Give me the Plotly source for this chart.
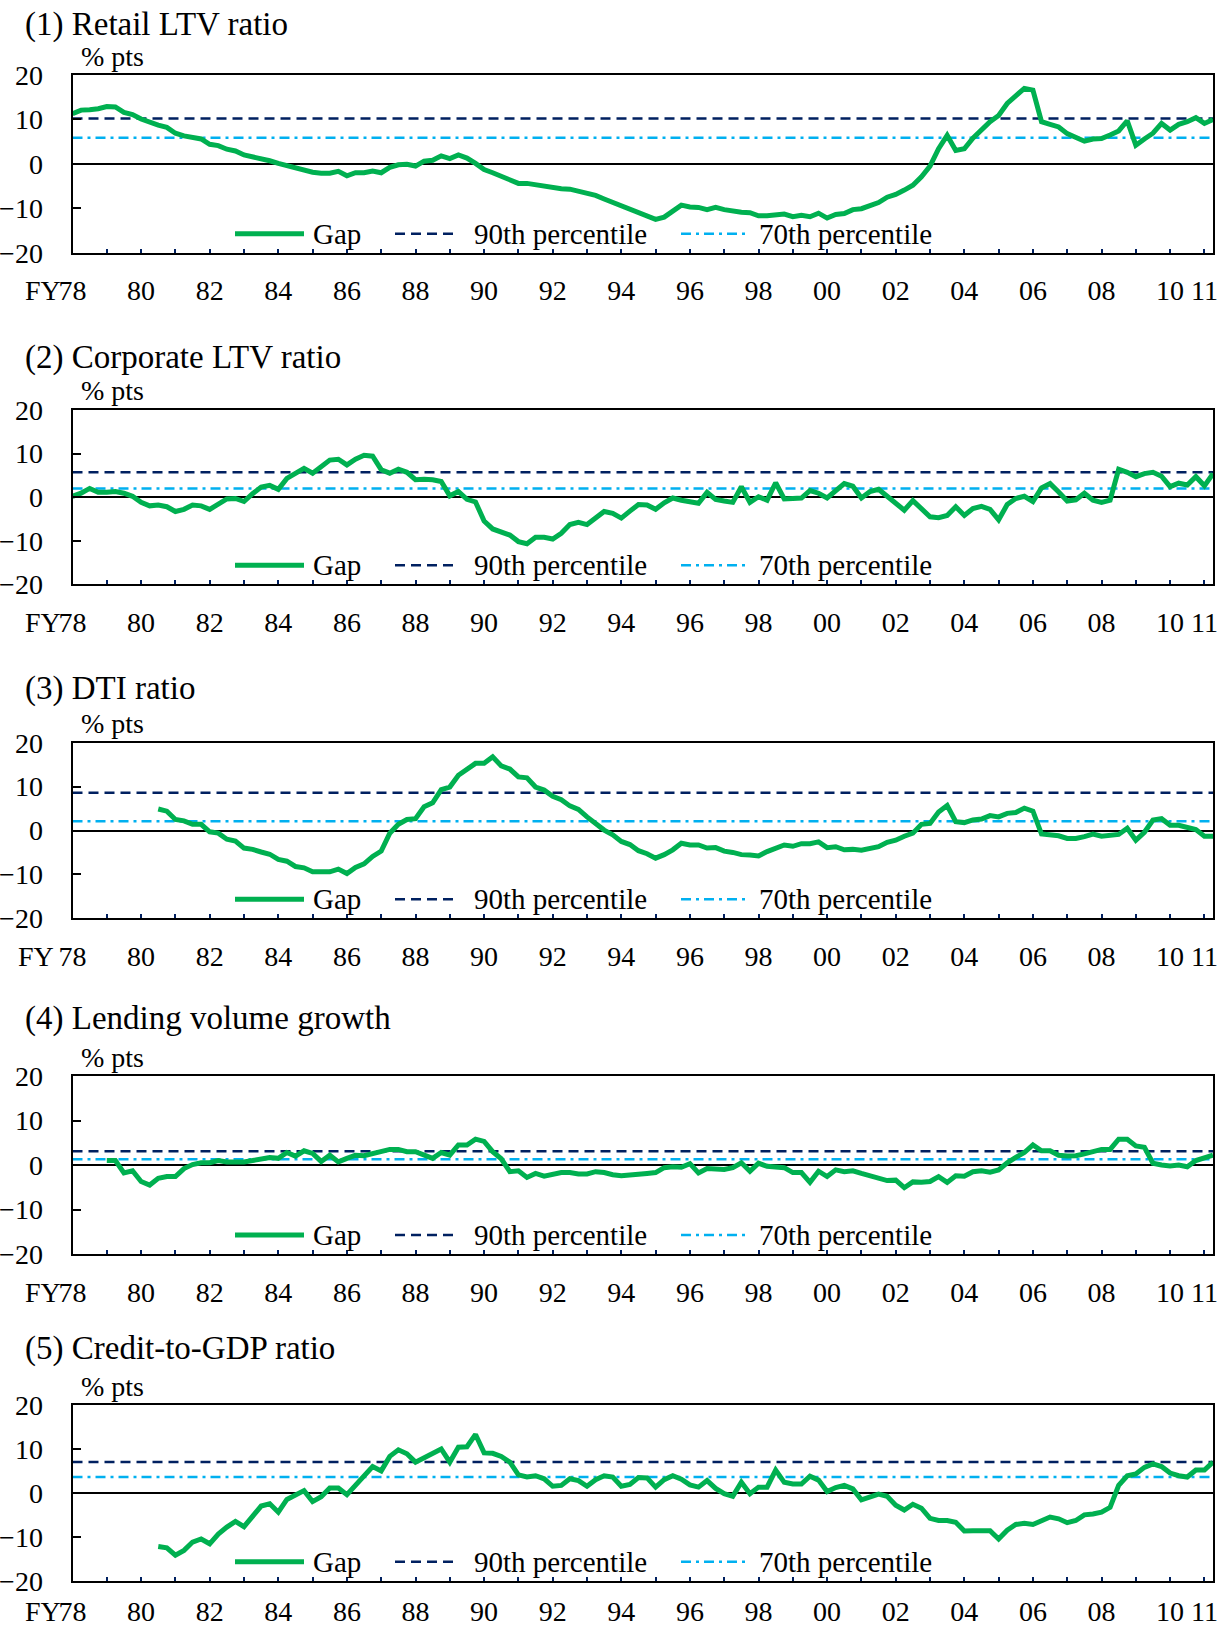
import plotly.graph_objects as go

# Quarterly gap series, FY1978Q1 .. FY2011Q2 (None = not yet available)
retail_ltv_gap = [
    11.3, 12.1, 12.2, 12.4, 12.9, 12.8, 11.6, 11.1,
    10.1, 9.3, 8.7, 8.2, 6.9, 6.3, 5.9, 5.6,
    4.4, 4.1, 3.3, 2.9, 2.0, 1.6, 1.2, 0.7,
    0.1, -0.4, -0.9, -1.2, -1.9, -2.1, -2.1, -1.7,
    -2.7, -2.0, -2.0, -1.6, -2.0, -0.8, -0.2, -0.1,
    -0.5, 0.6, 0.8, 1.8, 1.2, 2.0, 1.3, 0.1,
    -1.3, -2.0, -2.9, -3.8, -4.4, -4.4, -4.7, -5.0,
    -5.4, -5.6, -5.7, -6.1, -6.7, -7.1, -7.9, -8.7,
    -9.3, -10.1, -11.0, -11.7, -12.5, -12.0, -10.7, -9.3,
    -9.7, -9.8, -10.3, -9.8, -10.3, -10.7, -10.9, -11.0,
    -11.7, -11.7, -11.5, -11.3, -11.9, -11.6, -11.9, -11.1,
    -12.2, -11.4, -11.2, -10.3, -10.1, -9.4, -8.7, -7.5,
    -6.9, -5.9, -4.8, -2.9, -0.5, 3.4, 6.4, 3.0,
    3.4, 5.8, 7.6, 9.5, 10.9, 13.6, 15.3, 17.0,
    16.6, 9.5, 8.9, 8.3, 6.8, 5.9, 5.1, 5.6,
    5.7, 6.5, 7.4, 9.7, 4.2, 5.6, 6.9, 9.1,
    7.6, 8.9, 9.5, 10.4, 9.1, 10.0,
]

corporate_ltv_gap = [
    0.2, 0.9, 2.0, 1.1, 1.1, 1.3, 0.9, 0.2,
    -1.2, -2.0, -1.8, -2.2, -3.3, -2.8, -1.8, -2.0,
    -2.8, -1.6, -0.4, -0.3, -1.0, 0.8, 2.3, 2.7,
    1.8, 4.3, 5.5, 6.6, 5.5, 7.1, 8.5, 8.7,
    7.4, 8.7, 9.6, 9.4, 6.3, 5.5, 6.4, 5.7,
    4.0, 4.1, 4.0, 3.6, 0.3, 1.3, -0.5, -1.1,
    -5.5, -7.3, -7.9, -8.7, -10.2, -10.7, -9.2, -9.2,
    -9.6, -8.3, -6.3, -5.8, -6.3, -4.8, -3.3, -3.7,
    -4.8, -3.2, -1.7, -1.8, -2.8, -1.3, -0.2, -0.7,
    -1.1, -1.4, 1.1, -0.5, -0.9, -1.2, 2.4, -1.2,
    0.1, -0.7, 3.3, -0.4, -0.3, -0.2, 1.5, 0.9,
    -0.2, 1.5, 3.1, 2.5, -0.2, 1.3, 1.8, 0.2,
    -1.3, -3.0, -0.8, -2.5, -4.5, -4.7, -4.2, -2.2,
    -4.2, -2.6, -2.1, -2.8, -5.2, -1.7, -0.3, 0.2,
    -1.0, 2.1, 3.1, 1.2, -0.9, -0.6, 0.9, -0.7,
    -1.2, -0.7, 6.4, 5.7, 4.7, 5.4, 5.7, 4.8,
    2.4, 3.2, 2.8, 4.7, 2.6, 5.4,
]

dti_gap = [
    None, None, None, None, None, None, None, None,
    None, None, 4.9, 4.4, 2.5, 2.2, 1.4, 1.4,
    -0.3, -0.6, -2.0, -2.4, -4.0, -4.3, -4.9, -5.4,
    -6.6, -7.0, -8.2, -8.5, -9.4, -9.4, -9.4, -8.8,
    -9.8, -8.4, -7.6, -5.9, -4.7, -0.6, 1.4, 2.5,
    2.7, 5.4, 6.3, 9.3, 9.9, 12.6, 13.9, 15.3,
    15.3, 16.8, 14.7, 14.0, 12.2, 12.0, 9.9, 9.2,
    7.8, 7.0, 5.6, 4.8, 3.1, 1.6, 0.1, -1.0,
    -2.5, -3.2, -4.6, -5.3, -6.3, -5.5, -4.4, -2.9,
    -3.3, -3.3, -4.0, -3.9, -4.7, -5.0, -5.5, -5.6,
    -5.8, -4.8, -3.9, -3.3, -3.6, -3.0, -3.0, -2.6,
    -3.9, -3.7, -4.4, -4.3, -4.5, -4.2, -3.7, -2.7,
    -2.2, -1.3, -0.6, 1.4, 1.6, 4.2, 5.7, 2.0,
    1.8, 2.4, 2.6, 3.4, 3.1, 3.9, 4.1, 5.1,
    4.4, -0.8, -1.1, -1.2, -1.8, -1.8, -1.4, -0.8,
    -1.3, -1.1, -0.9, 0.5, -2.2, -0.4, 2.4, 2.7,
    1.2, 1.2, 0.6, 0.2, -1.3, -1.3,
]

lending_growth_gap = [
    None, None, None, None, 1.0, 1.0, -1.8, -1.3,
    -3.7, -4.5, -3.0, -2.6, -2.6, -0.8, 0.1, 0.5,
    0.5, 1.0, 0.7, 0.7, 0.7, 1.0, 1.4, 1.7,
    1.5, 2.8, 2.0, 3.2, 2.6, 0.8, 2.2, 0.7,
    1.5, 2.2, 2.1, 2.6, 3.0, 3.5, 3.5, 3.0,
    3.0, 2.2, 1.5, 2.8, 2.2, 4.5, 4.5, 5.8,
    5.3, 3.0, 1.4, -1.5, -1.3, -2.8, -1.9, -2.5,
    -2.0, -1.7, -1.7, -2.0, -2.0, -1.5, -1.7, -2.2,
    -2.4, -2.3, -2.1, -1.9, -1.7, -0.6, -0.4, -0.5,
    0.3, -1.8, -0.8, -1.0, -1.0, -0.6, 0.5, -1.4,
    0.4, -0.3, -0.4, -0.6, -1.7, -1.7, -3.9, -1.4,
    -2.6, -1.1, -1.5, -1.3, -1.9, -2.4, -3.0, -3.5,
    -3.4, -5.1, -3.8, -3.9, -3.7, -2.6, -3.9, -2.4,
    -2.5, -1.5, -1.3, -1.6, -1.1, 0.5, 1.7, 2.8,
    4.5, 3.2, 3.2, 2.2, 2.0, 2.1, 2.5, 3.0,
    3.5, 3.5, 5.8, 5.8, 4.3, 4.0, 0.4, 0.0,
    -0.2, 0.0, -0.4, 1.0, 1.5, 2.2,
]

credit_gdp_gap = [
    None, None, None, None, None, None, None, None,
    None, None, -12.2, -12.5, -14.2, -13.1, -11.2, -10.5,
    -11.6, -9.4, -7.8, -6.5, -7.7, -5.5, -3.0, -2.5,
    -4.4, -1.5, -0.6, 0.5, -2.0, -0.9, 1.1, 1.1,
    -0.4, 1.7, 4.0, 6.0, 5.0, 8.3, 9.8, 8.9,
    7.0, 8.0, 9.0, 10.0, 7.0, 10.4, 10.5, 13.3,
    9.1, 9.0, 8.3, 7.0, 4.1, 3.6, 3.9, 3.2,
    1.5, 1.7, 3.2, 2.8, 1.5, 3.0, 3.9, 3.6,
    1.5, 1.9, 3.5, 3.4, 1.3, 3.0, 3.9, 3.1,
    1.8, 1.3, 2.8, 1.0, -0.2, -0.8, 2.4, -0.2,
    1.3, 1.3, 5.2, 2.4, 2.0, 2.0, 3.8, 2.9,
    0.3, 1.2, 1.7, 0.9, -1.6, -0.8, -0.3, -0.8,
    -2.8, -3.9, -2.6, -3.5, -5.8, -6.3, -6.3, -6.7,
    -8.7, -8.6, -8.6, -8.6, -10.5, -8.5, -7.2, -6.9,
    -7.2, -6.3, -5.5, -5.9, -6.8, -6.3, -5.0, -4.8,
    -4.4, -3.3, 1.7, 3.9, 4.3, 5.8, 6.6, 6.0,
    4.5, 3.9, 3.6, 5.2, 5.2, 7.0,
]

panel_titles = [
    "(1) Retail LTV ratio",
    "(2) Corporate LTV ratio",
    "(3) DTI ratio",
    "(4) Lending volume growth",
    "(5) Credit-to-GDP ratio",
]
gap_series = [retail_ltv_gap, corporate_ltv_gap, dti_gap, lending_growth_gap, credit_gdp_gap]
pct90 = [10.2, 5.7, 8.6, 3.1, 7.0]
pct70 = [5.85, 2.0, 2.1, 1.3, 3.6]

tick_years = [1978, 1980, 1982, 1984, 1986, 1988, 1990, 1992, 1994, 1996,
              1998, 2000, 2002, 2004, 2006, 2008, 2010, 2011]
tick_labels = ["78", "80", "82", "84", "86", "88", "90", "92", "94", "96",
               "98", "00", "02", "04", "06", "08", "10", "11"]
fy_prefix = ["FY", "FY", "FY", "FY", "FY"]
y_ticks = [-20, -10, 0, 10, 20]
legend_names = ["Gap", "90th percentile", "70th percentile"]

# quarterly positions on a fiscal-year scale
quarters = [1978 + q / 4 for q in range(len(retail_ltv_gap))]

GREEN = "#00B050"
NAVY = "#002060"
SKY = "#00B0F0"
FONT = "Liberation Serif"
W, H = 1221, 1629

def fx(px):
    return px / W

def fy(py):
    return 1 - py / H

plot_left, plot_right = 72.5, 1213.0
tops = [75.0, 410.0, 742.7, 1076.0, 1405.0]
bottoms = [252.7, 584.3, 918.3, 1254.0, 1580.7]
title_y = [25.0, 357.0, 688.0, 1019.0, 1348.0]
fy_right = [63.0, 63.0, 56.0, 63.0, 63.0]
# the last panel's year labels sit a little higher so they stay on the page
label_standoff = [12, 12, 12, 12, 5]

DASH90 = "10px,6px"
DASH70 = "10px,5px,3px,5px"

fig = go.Figure()
layout = dict(
    template="none",
    width=W, height=H,
    margin=dict(l=0, r=0, t=0, b=0, pad=0, autoexpand=False),
    paper_bgcolor="white", plot_bgcolor="white",
    showlegend=False,
    font=dict(family=FONT, size=28, color="black"),
)
annotations = []
shapes = []

for i in range(5):
    n = i + 1
    sfx = "" if n == 1 else str(n)
    xref, yref = "x" + sfx, "y" + sfx
    x_ends = [quarters[0], quarters[-1]]

    fig.add_trace(go.Scatter(x=x_ends, y=[pct70[i]] * 2, mode="lines",
                             line=dict(color=SKY, width=2.5, dash=DASH70),
                             name=legend_names[2], xaxis=xref, yaxis=yref))
    fig.add_trace(go.Scatter(x=x_ends, y=[pct90[i]] * 2, mode="lines",
                             line=dict(color=NAVY, width=2.5, dash=DASH90),
                             name=legend_names[1], xaxis=xref, yaxis=yref))
    fig.add_trace(go.Scatter(x=quarters, y=gap_series[i], mode="lines",
                             line=dict(color=GREEN, width=5),
                             connectgaps=False,
                             name=legend_names[0], xaxis=xref, yaxis=yref))

    layout["xaxis" + sfx] = dict(
        domain=[fx(plot_left), fx(plot_right)],
        anchor=yref, range=[quarters[0], quarters[-1]],
        automargin=False,
        tickmode="array", tickvals=tick_years, ticktext=tick_labels,
        ticks="inside", ticklen=4, tickwidth=1.5, tickcolor=NAVY,
        minor=dict(ticks="inside", ticklen=4, tickwidth=1.5, tickcolor=NAVY,
                   dtick=1, tick0=1978, showgrid=False),
        showline=True, linecolor="black", linewidth=2, mirror=True,
        showgrid=False, zeroline=False,
        tickfont=dict(family=FONT, size=28, color="black"),
        ticklabelstandoff=label_standoff[i],
    )
    layout["yaxis" + sfx] = dict(
        domain=[fy(bottoms[i]), fy(tops[i])],
        anchor=xref, range=[-20, 20],
        automargin=False,
        tickmode="array", tickvals=y_ticks,
        ticks="inside", ticklen=8, tickwidth=1.5, tickcolor="black",
        showline=True, linecolor="black", linewidth=2, mirror=True,
        showgrid=False, zeroline=True, zerolinecolor="black", zerolinewidth=1.5,
        tickfont=dict(family=FONT, size=28, color="black"),
        ticklabelstandoff=22,
    )

    # panel title and unit label
    annotations.append(dict(text=panel_titles[i], xref="paper", yref="paper",
                            x=fx(23), y=fy(title_y[i]), xanchor="left", yanchor="middle",
                            showarrow=False, font=dict(family=FONT, size=33)))
    annotations.append(dict(text="% pts", xref="paper", yref="paper",
                            x=fx(79), y=fy(tops[i] - 19), xanchor="left", yanchor="middle",
                            showarrow=False, font=dict(family=FONT, size=28)))
    # fiscal-year prefix in front of the first tick label
    annotations.append(dict(text=fy_prefix[i], xref="paper", yref="paper",
                            x=fx(fy_right[i]),
                            y=fy(bottoms[i] + 38 - (12 - label_standoff[i])),
                            xanchor="right", yanchor="middle", showarrow=False,
                            font=dict(family=FONT, size=28)))

    # legend row inside the plot area
    row = fy(bottoms[i] - 19)
    keys = [(235, 304, GREEN, 5, "solid", 311, legend_names[0]),
            (395, 459, NAVY, 2.5, DASH90, 472, legend_names[1]),
            (681, 748, SKY, 2.5, DASH70, 757, legend_names[2])]
    for x0, x1, col, wid, dash, tx, label in keys:
        shapes.append(dict(type="line", xref="paper", yref="paper",
                           x0=fx(x0), x1=fx(x1), y0=row, y1=row,
                           line=dict(color=col, width=wid, dash=dash)))
        annotations.append(dict(text=label, xref="paper", yref="paper",
                                x=fx(tx), y=row, xanchor="left", yanchor="middle",
                                showarrow=False, font=dict(family=FONT, size=29)))

layout["annotations"] = annotations
layout["shapes"] = shapes
fig.update_layout(**layout)
fig.write_html("out.html")
